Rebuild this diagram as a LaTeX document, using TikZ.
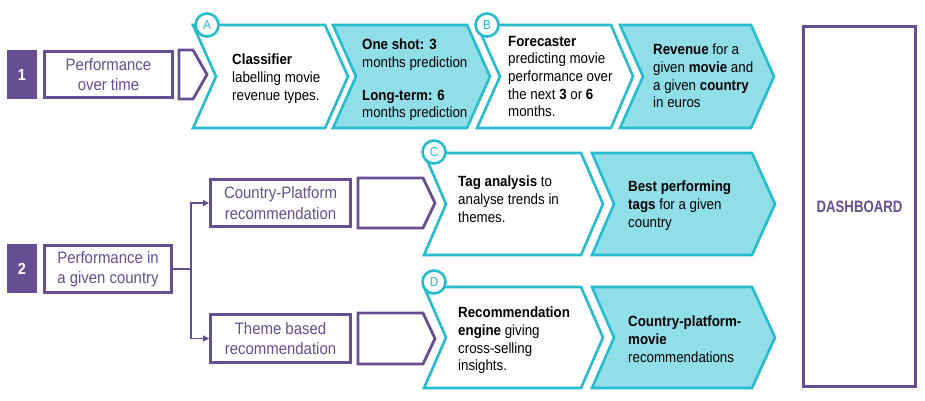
\documentclass[tikz,border=0pt]{standalone}
\usepackage{fontspec}
\setmainfont{Liberation Sans}[FakeStretch=0.9]
\newfontfamily\narrowfont{Liberation Sans}[FakeStretch=0.8]
\usetikzlibrary{arrows.meta}
\definecolor{pplum}{RGB}{101,79,146}
\definecolor{tealline}{RGB}{36,188,206}
\definecolor{tealfill}{RGB}{143,222,232}
\begin{document}
\begin{tikzpicture}[x=1pt,y=-1pt,
  chev/.style={draw=tealline, line width=2.6pt, line join=miter},
  chevw/.style={chev, fill=white},
  chevf/.style={chev, fill=tealfill},
  body/.style={anchor=north west, inner sep=0pt, align=left, font=\fontsize{14.8}{17.6}\selectfont, text=black},
  pbox/.style={draw=pplum, line width=2.8pt, fill=white, align=center, text=pplum, font=\fontsize{16.6}{20.5}\selectfont, inner sep=0pt},
  numbox/.style={fill=pplum, text=white, font=\fontsize{16}{18}\selectfont\bfseries, minimum width=30pt, minimum height=49pt, inner sep=0pt},
  tagc/.style={circle, draw=tealline, line width=2.6pt, fill=white, text=tealline, minimum size=23pt, inner sep=0pt, font=\fontsize{13}{13}\selectfont},
  pchev/.style={draw=pplum, line width=2.8pt, line join=miter},
  conn/.style={draw=pplum, line width=1.8pt, -{Triangle[length=6pt,width=6pt]}},
]
\useasboundingbox (0,0) rectangle (925,400);

% ---- row 1: performance over time ----
\node[numbox] (n1) at (22,74.5) {1};
\node[pbox, minimum width=128pt, minimum height=46pt] (p1) at (108.5,74.5) {Performance\\over time};
\draw[pchev] (179,50) -- (193,50) -- (207,74.5) -- (193,99) -- (179,99) -- cycle;

\draw[chevw] (193,25) -- (325,25) -- (348,76.5) -- (325,128) -- (193,128) -- (216,76.5) -- cycle;
\draw[chevf] (333,25) -- (467,25) -- (490,76.5) -- (467,128) -- (333,128) -- (356,76.5) -- cycle;
\draw[chevw] (477,25) -- (611,25) -- (633,76.5) -- (611,128) -- (477,128) -- (500,76.5) -- cycle;
\draw[chevf] (620,25) -- (751,25) -- (774,76.5) -- (751,128) -- (620,128) -- (643,76.5) -- cycle;

\node[body] (ta) at (232,54) {\textbf{Classifier}\\labelling movie\\revenue types.};
\node[body] (tap) at (362,39) {\textbf{One shot: 3}\\months prediction\\[15pt]\textbf{Long-term: 6}\\months prediction};
\node[body] (tb) at (508,36) {\textbf{Forecaster}\\predicting movie\\performance over\\the next \textbf{3} or \textbf{6}\\months.};
\node[body] (tbp) at (653,44) {\textbf{Revenue} for a\\given \textbf{movie} and\\a given \textbf{country}\\in euros};

\node[tagc] (ca) at (207,25) {A};
\node[tagc] (cb) at (487,25) {B};

% ---- row 2: performance in a given country ----
\node[numbox] (n2) at (22,268.5) {2};
\node[pbox, minimum width=127pt, minimum height=47pt] (p2) at (108,269) {Performance in\\a given country};
\node[pbox, minimum width=140pt, minimum height=47pt] (cp) at (280.5,203) {Country-Platform\\recommendation};
\node[pbox, minimum width=140pt, minimum height=48pt] (tbr) at (280.5,338.5) {Theme based\\recommendation};

\coordinate (split) at (191,269);
\draw[conn] (p2.east) -- (split) |- (cp.west);
\draw[conn] (split) |- (tbr.west);

\draw[pchev] (358,178) -- (423,178) -- (435,203) -- (423,228) -- (358,228) -- cycle;
\draw[pchev] (358,313) -- (423,313) -- (435,338.5) -- (423,364) -- (358,364) -- cycle;

\draw[chevw] (424,153) -- (581,153) -- (603,204) -- (581,255) -- (424,255) -- (446,204) -- cycle;
\draw[chevf] (592,153) -- (752,153) -- (775,204) -- (752,255) -- (592,255) -- (614,204) -- cycle;
\draw[chevw] (424,287) -- (581,287) -- (603,337.5) -- (581,388) -- (424,388) -- (446,337.5) -- cycle;
\draw[chevf] (592,287) -- (752,287) -- (775,337.5) -- (752,388) -- (592,388) -- (614,337.5) -- cycle;

\node[body] (tc) at (458,176) {\textbf{Tag analysis} to\\analyse trends in\\themes.};
\node[body] (tcp) at (628,181) {\textbf{Best performing}\\\textbf{tags} for a given\\country};
\node[body] (td) at (458,307) {\textbf{Recommendation}\\\textbf{engine} giving\\cross-selling\\insights.};
\node[body] (tdp) at (628,316) {\textbf{Country-platform-}\\\textbf{movie}\\recommendations};

\node[tagc] (cc) at (434,152) {C};
\node[tagc] (cd) at (434,282) {D};

% ---- dashboard ----
\node[draw=pplum, line width=2.8pt, minimum width=112pt, minimum height=360pt, inner sep=0pt,
      text=pplum, font=\narrowfont\fontsize{16.5}{18}\selectfont\bfseries] (dash) at (859.5,206.5) {DASHBOARD};
\end{tikzpicture}
\end{document}
